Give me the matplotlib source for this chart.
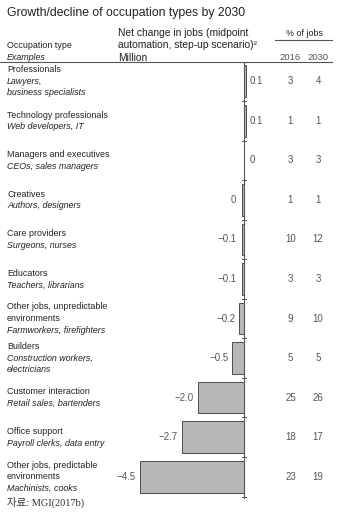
import matplotlib
matplotlib.use("Agg")
import matplotlib.pyplot as plt
import matplotlib.transforms as mtransforms

plt.rcParams['font.family'] = ['Liberation Sans', 'DejaVu Sans', 'Noto Sans CJK KR']

# ---- data ----
categories = [
    ["Professionals"],
    ["Technology professionals"],
    ["Managers and executives"],
    ["Creatives"],
    ["Care providers"],
    ["Educators"],
    ["Other jobs, unpredictable", "environments"],
    ["Builders"],
    ["Customer interaction"],
    ["Office support"],
    ["Other jobs, predictable", "environments"],
]
examples = [
    ["Lawyers,", "business specialists"],
    ["Web developers, IT"],
    ["CEOs, sales managers"],
    ["Authors, designers"],
    ["Surgeons, nurses"],
    ["Teachers, librarians"],
    ["Farmworkers, firefighters"],
    ["Construction workers,", "electricians"],
    ["Retail sales, bartenders"],
    ["Payroll clerks, data entry"],
    ["Machinists, cooks"],
]
net_change = [0.1, 0.1, 0.0, -0.08, -0.1, -0.1, -0.2, -0.5, -2.0, -2.7, -4.5]
net_labels = ["0.1", "0.1", "0", "0", "\u22120.1", "\u22120.1", "\u22120.2",
              "\u22120.5", "\u22122.0", "\u22122.7", "\u22124.5"]
pct_2016 = [3, 1, 3, 1, 10, 3, 9, 5, 25, 18, 23]
pct_2030 = [4, 1, 3, 1, 12, 3, 10, 5, 26, 17, 19]

W, H = 342, 519
fig = plt.figure(figsize=(W / 100, H / 100), dpi=100)
fig.patch.set_facecolor('white')
ax = fig.add_axes([0, 0, 1, 1])
ax.set_axis_off()

# geometry (pixels)
zero_px = 244.0
px_per_unit = 23.1
top_px = 61.5
row_px = 39.55
n = len(net_change)
ax.set_xlim(-zero_px / px_per_unit, (W - zero_px) / px_per_unit)
ax.set_ylim((H - top_px) / row_px - 0.5, -0.5 - top_px / row_px)

rows = list(range(n))
txt = '#222222'
num = '#555555'

def fx(px):
    return px / W

def fy(px):
    return 1 - px / H

# bars
ax.barh(rows, net_change, height=0.8, color='#b7b7b7', edgecolor='#4d4d4d',
        linewidth=0.7, zorder=2)

# axis line + row ticks
ax.plot([0, 0], [-0.5, n - 0.5 + 0.03], color='#555555', lw=0.8, zorder=3)
for i in range(n):
    ax.plot([-0.1, 0.1], [i + 0.5, i + 0.5], color='#555555', lw=0.7, zorder=3)

# value labels
for i, (v, lab) in enumerate(zip(net_change, net_labels)):
    if v < 0:
        x = min(v, -0.17) - 0.17
        ax.text(x, i, lab, ha='right', va='center', fontsize=7, color=num)
    else:
        ax.text(0.26, i, lab, ha='left', va='center', fontsize=7, color=num)

# percentages
bt = mtransforms.blended_transform_factory(fig.transFigure, ax.transData)
for i in range(n):
    ax.text(fx(290.5), i, str(pct_2016[i]), transform=bt, ha='center',
            va='center', fontsize=7, color=num)
    ax.text(fx(318), i, str(pct_2030[i]), transform=bt, ha='center',
            va='center', fontsize=7, color=num)

# row labels
line_pt = 11.6 * 72 / 100
for i in range(n):
    lines = [(s, 'normal') for s in categories[i]] + [(s, 'italic') for s in examples[i]]
    k = len(lines)
    for j, (s, style) in enumerate(lines):
        off = (j - (k - 1) / 2) * line_pt
        tr = mtransforms.offset_copy(bt, fig=fig, x=0, y=-off, units='points')
        ax.text(fx(7), i, s, transform=tr, ha='left', va='center',
                fontsize=6.4, style=style, color=txt)

# headers
fig.text(fx(7), fy(13), "Growth/decline of occupation types by 2030",
         ha='left', va='center', fontsize=8.8, color=txt)
fig.text(fx(118), fy(33), "Net change in jobs (midpoint", ha='left', va='center',
         fontsize=7.4, color=txt)
fig.text(fx(118), fy(45.5), "automation, step-up scenario)\u00b2", ha='left',
         va='center', fontsize=7.4, color=txt)
fig.text(fx(118), fy(58), "Million", ha='left', va='center', fontsize=7.4, color=txt)
fig.text(fx(7), fy(45.5), "Occupation type", ha='left', va='center', fontsize=6.4,
         color=txt)
fig.text(fx(7), fy(58), "Examples", ha='left', va='center', fontsize=6.4,
         style='italic', color=txt)
fig.text(fx(305), fy(33), "% of jobs", ha='center', va='center', fontsize=6.4,
         color=txt)
fig.text(fx(290.5), fy(58), "2016", ha='center', va='center', fontsize=6.8, color=num)
fig.text(fx(318), fy(58), "2030", ha='center', va='center', fontsize=6.8, color=num)

# header rules
fig.add_artist(plt.Line2D([fx(275), fx(332)], [fy(39.5), fy(39.5)],
                          color='#555555', lw=0.8))
fig.add_artist(plt.Line2D([fx(0), fx(332)], [fy(top_px), fy(top_px)],
                          color='#555555', lw=0.8))

# footer
fig.text(fx(7), fy(502), "자료: MGI(2017b)", ha='left', va='center', fontsize=7.5,
         family=['Liberation Serif', 'Noto Sans CJK KR'], color='#333333')

fig.savefig("out.png", dpi=100, facecolor='white')
